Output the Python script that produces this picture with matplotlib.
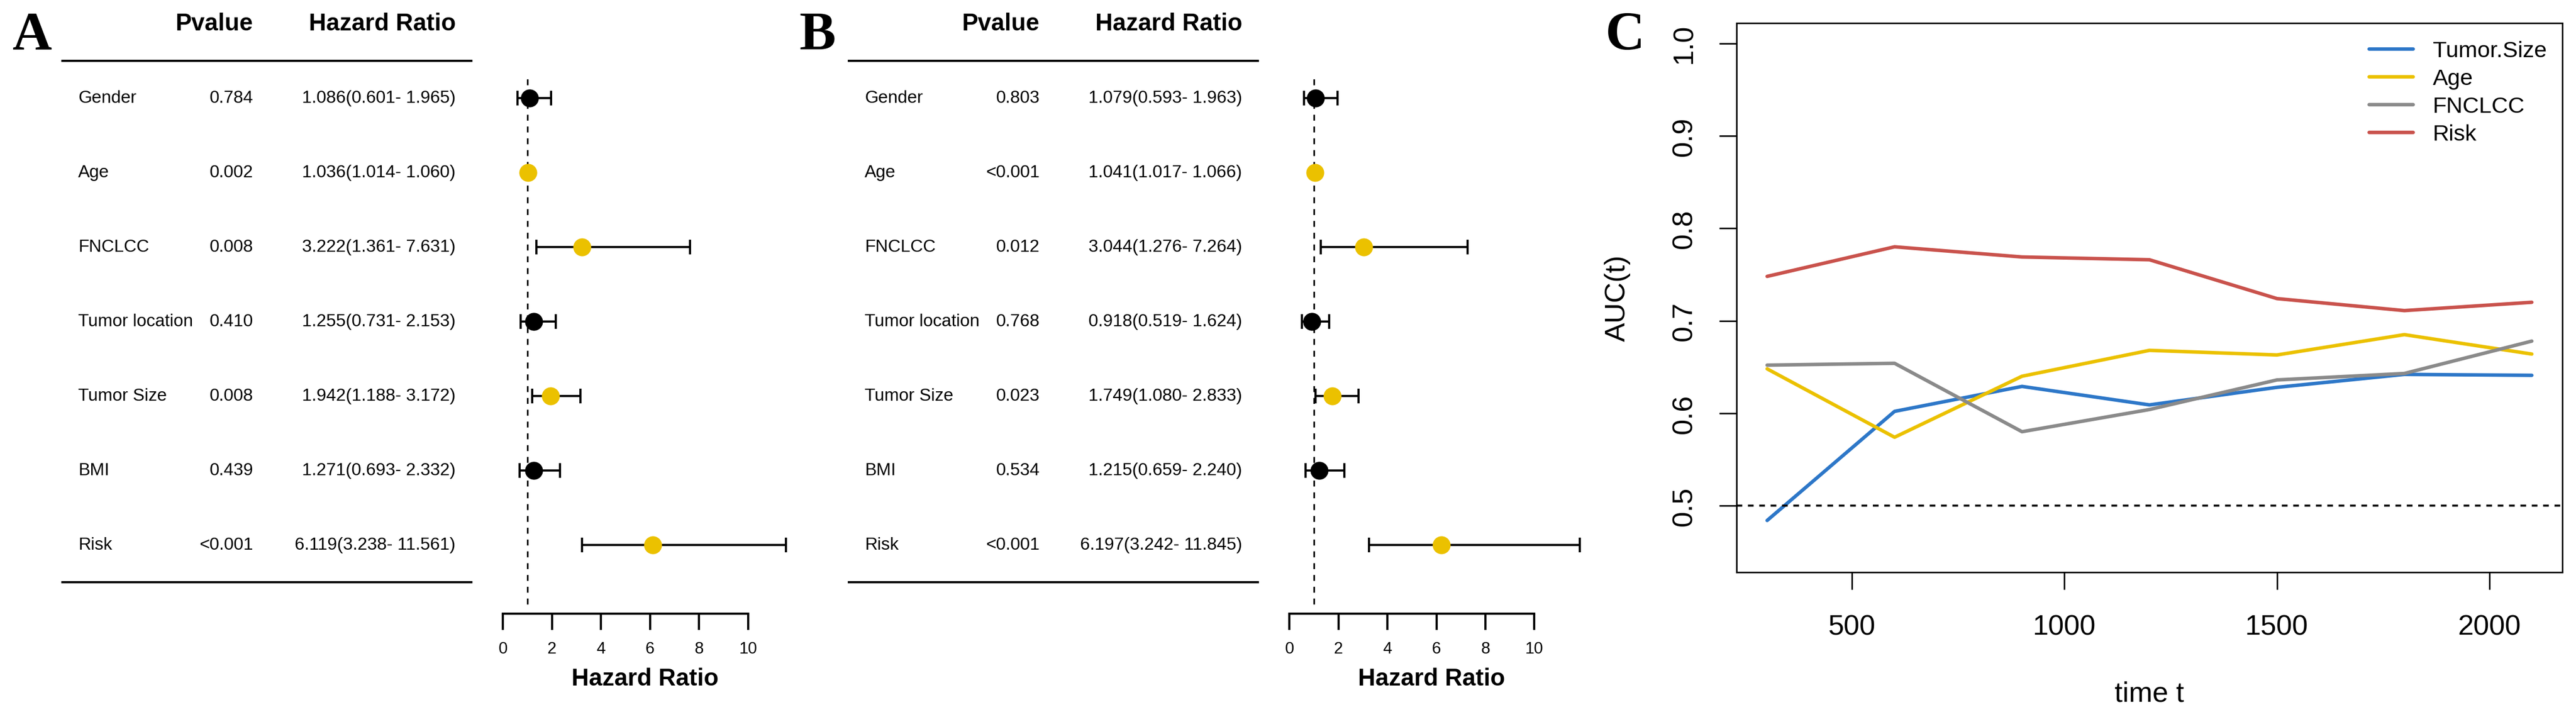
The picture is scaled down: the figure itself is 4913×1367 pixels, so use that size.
import numpy as np
import matplotlib
matplotlib.use("Agg")
import matplotlib.pyplot as plt
from matplotlib.transforms import blended_transform_factory

plt.rcParams['font.family'] = ['Liberation Sans', 'DejaVu Sans']
plt.rcParams['lines.scale_dashes'] = False

# -----------------------------
# Data
# -----------------------------
variables = ['Gender', 'Age', 'FNCLCC', 'Tumor location', 'Tumor Size', 'BMI', 'Risk']

# A : univariate
pval_a = ['0.784', '0.002', '0.008', '0.410', '0.008', '0.439', '<0.001']
hr_a = [1.086, 1.036, 3.222, 1.255, 1.942, 1.271, 6.119]
low_a = [0.601, 1.014, 1.361, 0.731, 1.188, 0.693, 3.238]
high_a = [1.965, 1.060, 7.631, 2.153, 3.172, 2.332, 11.561]

# B : multivariate
pval_b = ['0.803', '<0.001', '0.012', '0.768', '0.023', '0.534', '<0.001']
hr_b = [1.079, 1.041, 3.044, 0.918, 1.749, 1.215, 6.197]
low_b = [0.593, 1.017, 1.276, 0.519, 1.080, 0.659, 3.242]
high_b = [1.963, 1.066, 7.264, 1.624, 2.833, 2.240, 11.845]

# C : time dependent AUC
time_t = [300, 600, 900, 1200, 1500, 1800, 2100]
auc_tumor_size = [0.484, 0.602, 0.629, 0.609, 0.628, 0.642, 0.641]
auc_age = [0.648, 0.574, 0.640, 0.668, 0.663, 0.685, 0.664]
auc_fnclcc = [0.652, 0.654, 0.580, 0.604, 0.636, 0.643, 0.678]
auc_risk = [0.748, 0.780, 0.769, 0.766, 0.724, 0.711, 0.720]

YELLOW = '#EBC100'
W, H = 4913, 1368
fig = plt.figure(figsize=(W / 300, H / 300), dpi=300)


def is_signif(p):
    return p.startswith('<') or float(p) < 0.05


# -----------------------------
# Forest plots (A, B)
# -----------------------------
def forest(off, letter, pvals, hr, low, high):
    # axes: x=0 at 959 px, 46.75 px per unit ; rows 142 px apart
    ax = fig.add_axes([(959 + off) / W, 1 - 1171 / H, 46.75 * 12 / W, (1171 - 142) / H])
    n = len(variables)
    rows = np.arange(n)
    ax.set_xlim(0, 12)
    ax.set_ylim((1171 - 187.5) / 142, (142 - 187.5) / 142)

    hr = np.array(hr)
    low = np.array(low)
    high = np.array(high)
    ax.axvline(1, ymin=18 / 1029, ymax=1, color='black', lw=0.75, dashes=(2.7, 2.7))
    ax.errorbar(hr, rows, xerr=[hr - low, high - hr], fmt='none', ecolor='black',
                elinewidth=1.0, capsize=3.4, capthick=1.0, clip_on=False, zorder=2)
    cols = [YELLOW if is_signif(p) else 'black' for p in pvals]
    for xi, yi, c in zip(hr, rows, cols):
        ax.plot(xi, yi, 'o', color=c, ms=8.2, mec='none', zorder=3, clip_on=False)

    for s in ['top', 'right', 'left']:
        ax.spines[s].set_visible(False)
    ax.spines['bottom'].set_bounds(0, 10)
    ax.spines['bottom'].set_linewidth(1.0)
    ax.set_xticks(np.arange(0, 11, 2))
    ax.set_yticks([])
    ax.tick_params(axis='x', length=7.4, width=1.0, labelsize=7.5, pad=5)

    # table
    tr = blended_transform_factory(fig.transFigure, ax.transData)
    ax.text((483 + off) / W, -1, 'Pvalue', transform=tr, ha='right', va='center',
            fontsize=11, fontweight='bold')
    ax.text((869 + off) / W, -1, 'Hazard Ratio', transform=tr, ha='right', va='center',
            fontsize=11, fontweight='bold')
    for yline in [-0.5, n - 0.5]:
        ax.plot([(119 + off) / W, (899 + off) / W], [yline, yline], transform=tr,
                color='black', lw=1.0, clip_on=False)
    for i in range(n):
        ax.text((149 + off) / W, i, variables[i], transform=tr, ha='left', va='center', fontsize=8)
        ax.text((483 + off) / W, i, pvals[i], transform=tr, ha='right', va='center', fontsize=8)
        ax.text((869 + off) / W, i, f'{hr[i]:.3f}({low[i]:.3f}- {high[i]:.3f})',
                transform=tr, ha='right', va='center', fontsize=8)

    fig.text((1230 + off) / W, 1 - 1295 / H, 'Hazard Ratio', ha='center', va='center',
             fontsize=11, fontweight='bold')
    fig.text((24 + off) / W, 1 - 94 / H, letter, ha='left', va='baseline',
             fontsize=25, fontweight='bold', family='Liberation Serif')


forest(0, 'A', pval_a, hr_a, low_a, high_a)
forest(1500, 'B', pval_b, hr_b, low_b, high_b)

# -----------------------------
# Time dependent ROC (C)
# -----------------------------
axc = fig.add_axes([3312 / W, 1 - 1092 / H, (4887 - 3312) / W, (1092 - 45) / H])
series = [('Tumor.Size', auc_tumor_size, '#2D77C8'),
          ('Age', auc_age, YELLOW),
          ('FNCLCC', auc_fnclcc, '#8A8A8A'),
          ('Risk', auc_risk, '#C9524C')]
for name, vals, c in series:
    axc.plot(time_t, vals, color=c, lw=1.6, label=name,
             solid_capstyle='round', solid_joinstyle='round')
axc.axhline(0.5, color='black', lw=0.9, dashes=(2.6, 2.6))
axc.set_xlim(228, 2172)
axc.set_ylim(0.428, 1.022)
axc.set_xticks([500, 1000, 1500, 2000])
axc.set_yticks([0.5, 0.6, 0.7, 0.8, 0.9, 1.0])
axc.set_yticklabels(['0.5', '0.6', '0.7', '0.8', '0.9', '1.0'])
for s in axc.spines.values():
    s.set_linewidth(0.7)
axc.tick_params(axis='x', length=8, width=0.7, labelsize=13, pad=11)
axc.tick_params(axis='y', length=8, width=0.7, labelsize=13, pad=10, labelrotation=90)
for lab in axc.get_yticklabels():
    lab.set_va('center')
axc.text(0.5, (1092 - 1323) / 1047, 'time t', transform=axc.transAxes,
         ha='center', va='center', fontsize=13)
axc.text((3085 - 3312) / 1575, 0.5, 'AUC(t)', transform=axc.transAxes,
         ha='center', va='center', fontsize=13, rotation=90)
axc.legend(loc='upper left', bbox_to_anchor=((4518 - 3312) / 1575, (1092 - 78) / 1047),
           frameon=False, fontsize=10.4, handlelength=1.93, handletextpad=0.88,
           borderpad=0, borderaxespad=0, labelspacing=0.30)
fig.text(3062 / W, 1 - 94 / H, 'C', ha='left', va='baseline',
         fontsize=25, fontweight='bold', family='Liberation Serif')

fig.savefig('out.png', dpi=300)
